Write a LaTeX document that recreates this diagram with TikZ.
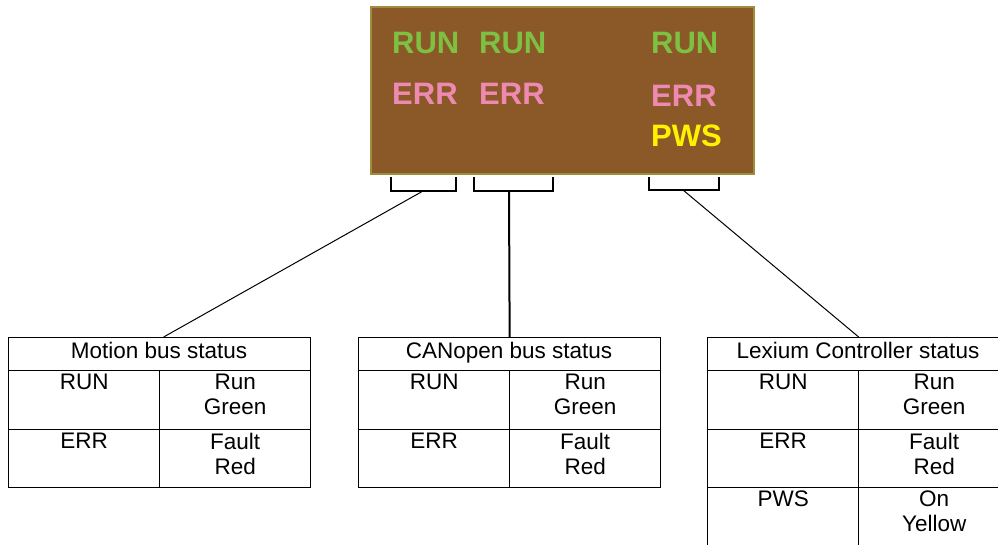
\documentclass[tikz,border=0pt]{standalone}
\usepackage{fontspec}
\setmainfont{Liberation Sans}
\definecolor{panelfill}{RGB}{139,88,40}
\definecolor{panelborder}{RGB}{160,140,62}
\definecolor{ledgreen}{RGB}{125,192,66}
\definecolor{ledpink}{RGB}{238,138,178}
\definecolor{ledyellow}{RGB}{255,242,0}
\tikzset{
  panel/.style={draw=panelborder, line width=2pt, fill=panelfill, anchor=north west, minimum width=383pt, minimum height=167pt, inner sep=0pt},
  led/.style={anchor=base west, inner sep=0pt, font=\fontsize{31}{31}\selectfont\bfseries},
  run/.style={led, text=ledgreen},
  err/.style={led, text=ledpink},
  pws/.style={led, text=ledyellow},
  bracket/.style={draw=black, line width=2.5pt},
  link/.style={draw=black, line width=1pt},
  thicklink/.style={draw=black, line width=2pt},
  cell/.style={draw=black, line width=1.3pt, anchor=north west, inner sep=0pt, minimum width=151pt},
  hdrcell/.style={draw=black, line width=1.3pt, anchor=north west, inner sep=0pt, minimum width=302pt, minimum height=33pt},
  hdrtext/.style={anchor=base, inner sep=0pt, font=\fontsize{22.5}{25}\selectfont},
  celltext/.style={anchor=north, inner sep=0pt, align=center, font=\fontsize{22.5}{25}\selectfont},
}
\begin{document}
\begin{tikzpicture}[x=1pt,y=-1pt]
\useasboundingbox (0,0) rectangle (998,545);
\clip (0,0) rectangle (998,545);
% LED panel
\node[panel] (panel) at (370,6) {};
\node[run] (run1) at (392,54) {RUN};
\node[run] (run2) at (479,54) {RUN};
\node[run] (run3) at (651,54) {RUN};
\node[err] (err1) at (392,105) {ERR};
\node[err] (err2) at (479,105) {ERR};
\node[err] (err3) at (651,107) {ERR};
\node[pws] (pws3) at (651,147) {PWS};
% brackets
\draw[bracket] (391,177) |- (456,191) -- (456,177);
\draw[bracket] (474,177) |- (553,191) -- (553,177);
\draw[bracket] (649,177) |- (719,190) -- (719,177);
\coordinate (b1) at (423,191);
\coordinate (b2) at (509,191);
\coordinate (b3) at (683,190);
% Motion bus table
\node[hdrcell] (mh) at (8,337) {};
\node[hdrtext] (mht) at (159,358) {Motion bus status};
\node[cell, minimum height=59pt] (m1a) at (8,370) {};
\node[cell, minimum height=59pt] (m1b) at (159,370) {};
\node[cell, minimum height=58pt] (m2a) at (8,429) {};
\node[cell, minimum height=58pt] (m2b) at (159,429) {};
\node[celltext] at (m1a.north) [yshift=-3.9pt] {RUN};
\node[celltext] at (m1b.north) [yshift=-3.9pt] {Run\\Green};
\node[celltext] at (m2a.north) [yshift=-3.9pt] {ERR};
\node[celltext] at (m2b.north) [yshift=-3.9pt] {Fault\\Red};
% CANopen bus table
\node[hdrcell] (ch) at (358,337) {};
\node[hdrtext] (cht) at (509,358) {CANopen bus status};
\node[cell, minimum height=59pt] (c1a) at (358,370) {};
\node[cell, minimum height=59pt] (c1b) at (509,370) {};
\node[cell, minimum height=58pt] (c2a) at (358,429) {};
\node[cell, minimum height=58pt] (c2b) at (509,429) {};
\node[celltext] at (c1a.north) [yshift=-3.9pt] {RUN};
\node[celltext] at (c1b.north) [yshift=-3.9pt] {Run\\Green};
\node[celltext] at (c2a.north) [yshift=-3.9pt] {ERR};
\node[celltext] at (c2b.north) [yshift=-3.9pt] {Fault\\Red};
% Lexium controller table
\node[hdrcell] (lh) at (707,337) {};
\node[hdrtext] (lht) at (858,358) {Lexium Controller status};
\node[cell, minimum height=59pt] (l1a) at (707,370) {};
\node[cell, minimum height=59pt] (l1b) at (858,370) {};
\node[cell, minimum height=58pt] (l2a) at (707,429) {};
\node[cell, minimum height=58pt] (l2b) at (858,429) {};
\node[cell, minimum height=62pt] (l3a) at (707,487) {};
\node[cell, minimum height=62pt] (l3b) at (858,487) {};
\node[celltext] at (l1a.north) [yshift=-3.9pt] {RUN};
\node[celltext] at (l1b.north) [yshift=-3.9pt] {Run\\Green};
\node[celltext] at (l2a.north) [yshift=-3.9pt] {ERR};
\node[celltext] at (l2b.north) [yshift=-3.9pt] {Fault\\Red};
\node[celltext] at (l3a.north) [yshift=-3.9pt] {PWS};
\node[celltext] at (l3b.north) [yshift=-3.9pt] {On\\Yellow};
% connectors
\draw[link] (b1) -- ([xshift=4pt]mh.north);
\draw[thicklink] (b2) -- (ch.north);
\draw[link] (b3) -- (lh.north);
\end{tikzpicture}
\end{document}
